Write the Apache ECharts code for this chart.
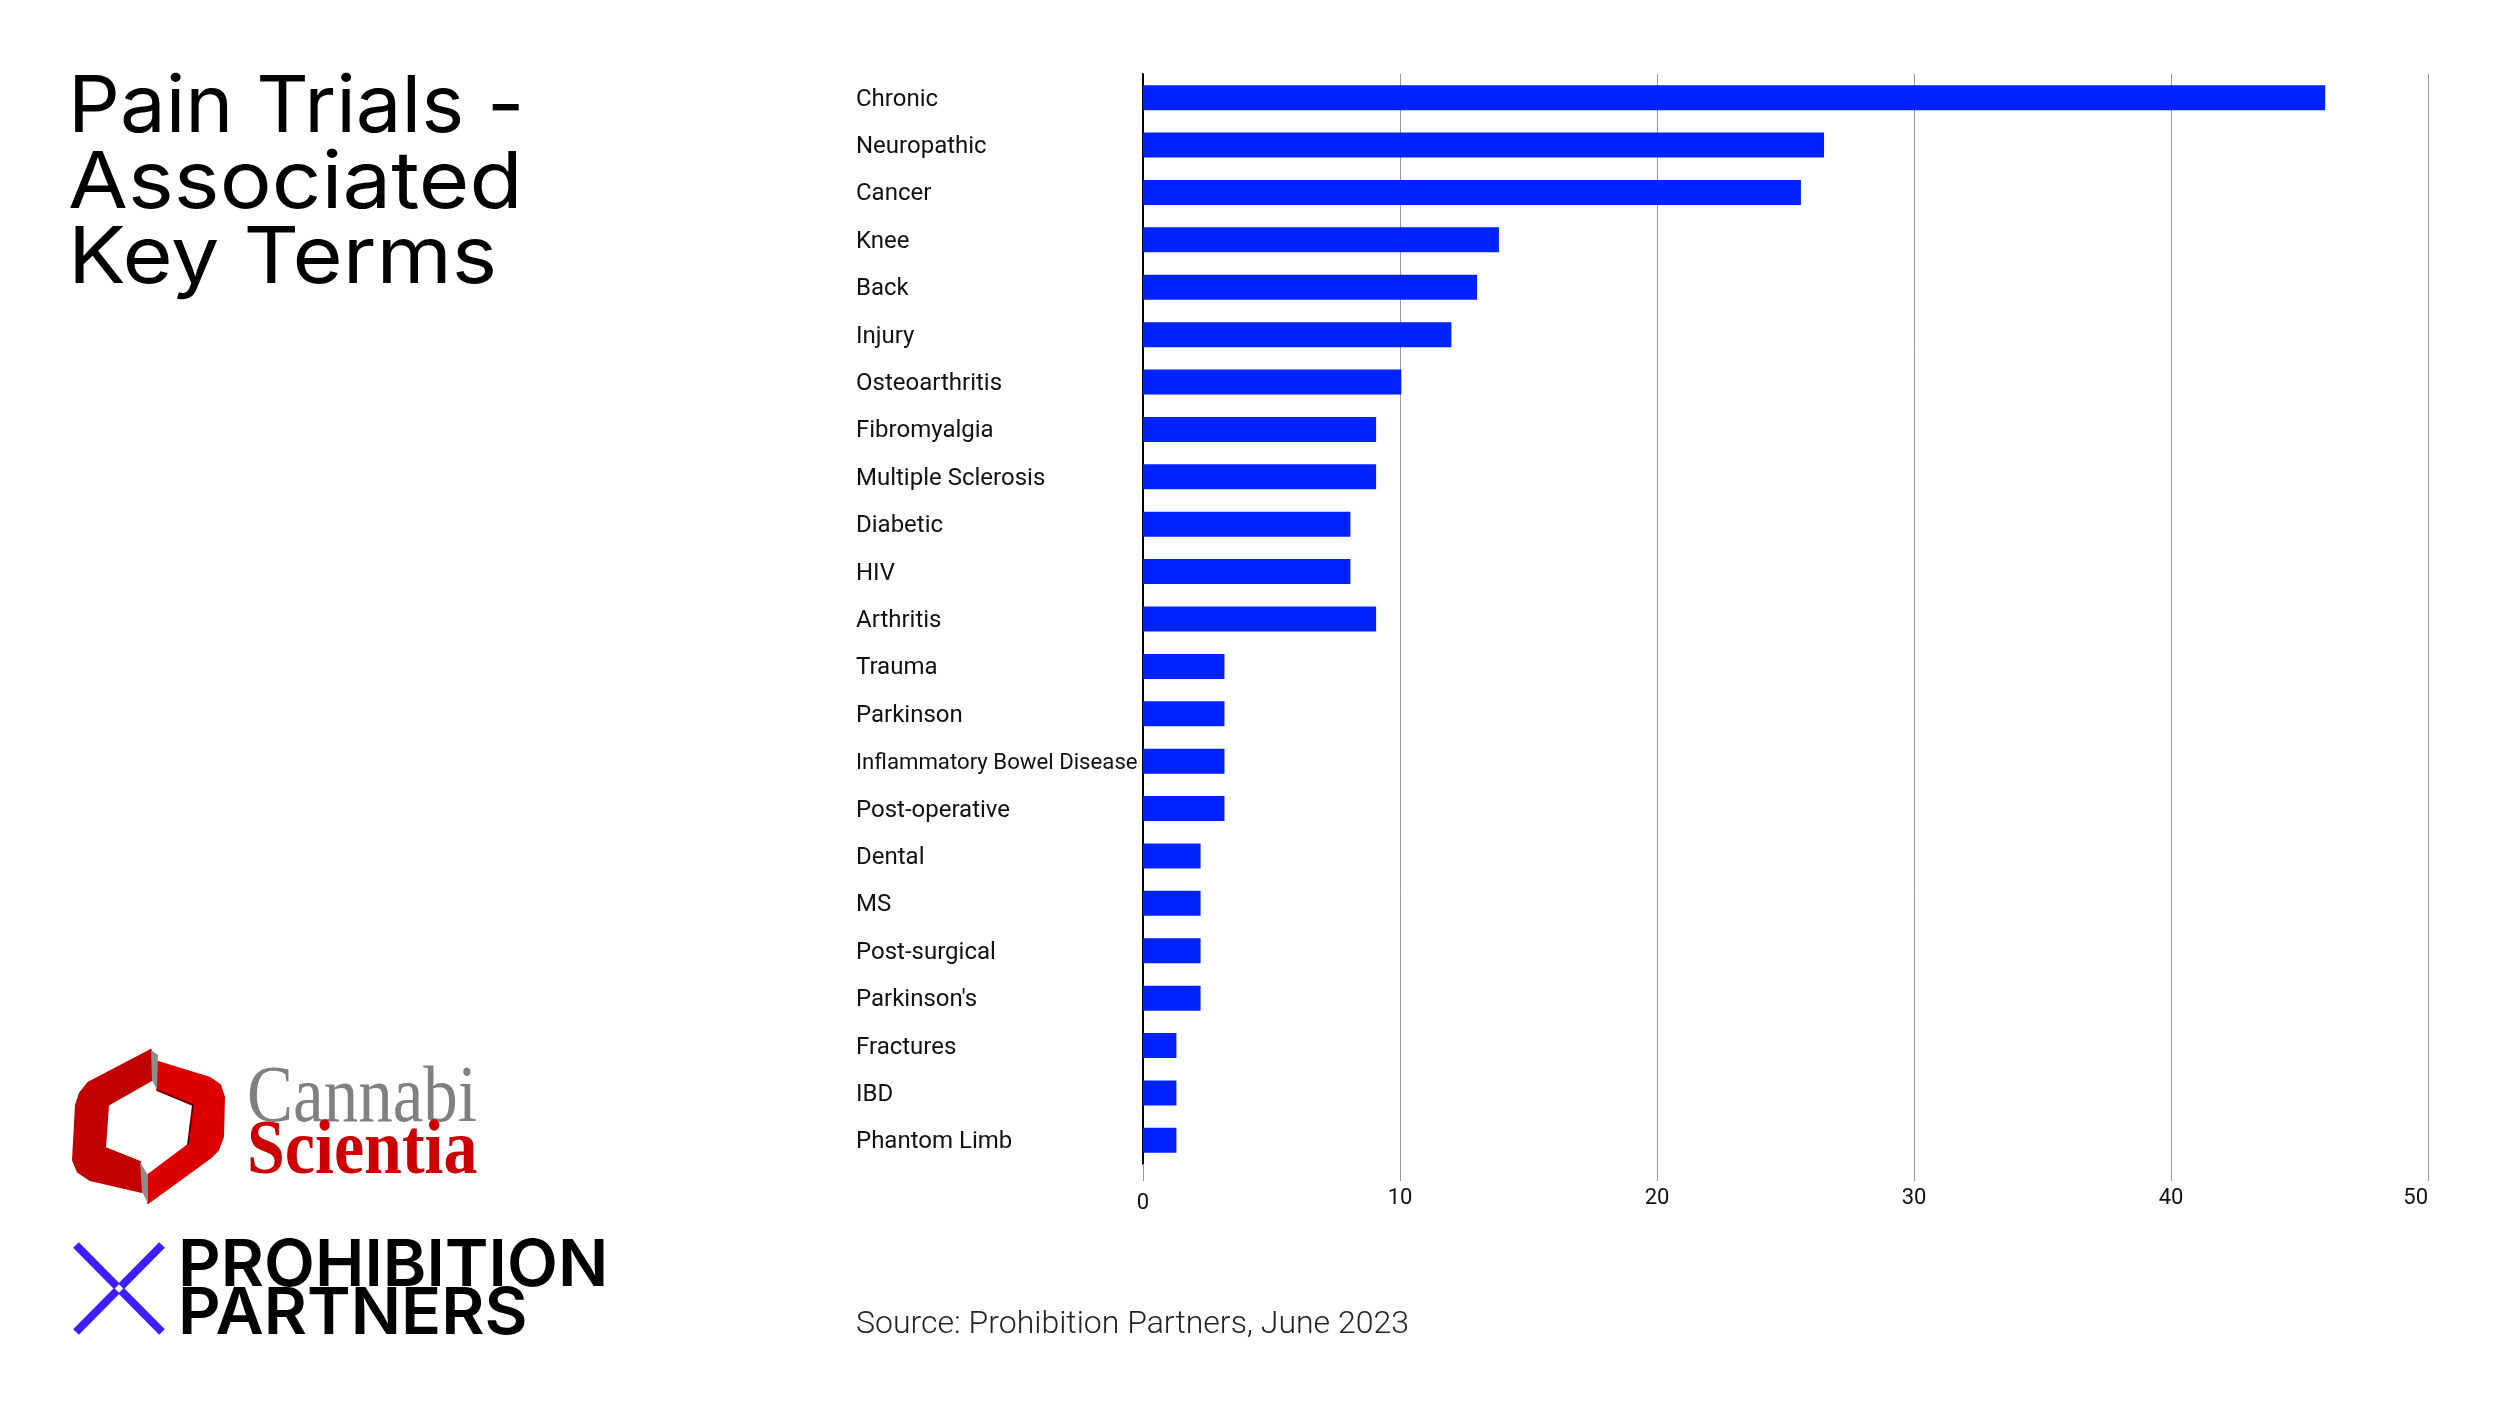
<!DOCTYPE html>
<html>
<head>
<meta charset="utf-8">
<script src="https://cdn.jsdelivr.net/npm/echarts@6/dist/echarts.min.js"></script>
<style>
html,body{margin:0;padding:0;background:#fff;}
#chart{width:2500px;height:1406px;}
</style>
</head>
<body>
<div id="chart"></div>
<script>
// ---- data ----
const categories = [
  'Chronic','Neuropathic','Cancer','Knee','Back','Injury','Osteoarthritis',
  'Fibromyalgia','Multiple Sclerosis','Diabetic','HIV','Arthritis','Trauma',
  'Parkinson','Inflammatory Bowel Disease','Post-operative','Dental','MS',
  'Post-surgical',"Parkinson's",'Fractures','IBD','Phantom Limb'
];
const values = [
  46, 26.5, 25.6, 13.85, 13, 12, 10.05,
  9.07, 9.07, 8.07, 8.07, 9.07, 3.17,
  3.17, 3.17, 3.17, 2.24, 2.24,
  2.24, 2.24, 1.3, 1.3, 1.3
];
const xMin = 0, xMax = 50, xStep = 10;
const titleLines = ['Pain Trials -', 'Associated', 'Key Terms'];
const sourceText = 'Source: Prohibition Partners, June 2023';

const chart = echarts.init(document.getElementById('chart'), null, {renderer: 'canvas'});

const graphics = [];
// title
const titleY = [108, 184, 259];
const titleScale = [1.03, 1.1, 1.09];
titleLines.forEach((t, i) => {
  graphics.push({
    type: 'text', x: 68, y: titleY[i], scaleX: titleScale[i],
    style: {text: t, x: 0, y: 0, fill: '#000', font: '400 79px Inter', textVerticalAlign: 'middle'}
  });
});
// source
graphics.push({
  type: 'text', x: 856, y: 1325,
  style: {text: sourceText, x: 0, y: 0, fill: '#222', font: '300 32px Roboto', textVerticalAlign: 'middle'}
});
// Cannabi Scientia logo
graphics.push({
  type: 'polygon',
  shape: {points: [[151,1050],[88,1083],[80,1093],[76,1105],[73,1160],[78,1172],[90,1180],[142,1192],[140,1162],[105,1148],[108,1105],[152,1080]]},
  style: {fill: '#c20000', stroke: '#c20000', lineWidth: 2, lineJoin: 'round'}
});
graphics.push({
  type: 'polygon',
  shape: {points: [[158,1062],[210,1078],[220,1085],[224,1097],[223,1137],[218,1150],[210,1158],[148,1203],[148,1175],[188,1145],[193,1105],[157,1090]]},
  style: {fill: '#dc0000', stroke: '#dc0000', lineWidth: 2, lineJoin: 'round'}
});
graphics.push({
  type: 'polyline',
  shape: {points: [[157,1090],[193,1105],[188,1145]]},
  style: {stroke: '#300', lineWidth: 1.2, fill: null}
});
graphics.push({
  type: 'polygon',
  shape: {points: [[151,1050],[158,1055],[157,1090],[152,1080]]},
  style: {fill: '#8c8c8c'}
});
graphics.push({
  type: 'polygon',
  shape: {points: [[140,1162],[148,1175],[148,1203],[142,1192]]},
  style: {fill: '#8c8c8c'}
});
graphics.push({
  type: 'text', x: 247, y: 1100, scaleY: 1.15,
  style: {text: 'Cannabi', x: 0, y: 0, fill: '#808080', font: '400 69px "Liberation Serif"', textVerticalAlign: 'middle'}
});
graphics.push({
  type: 'text', x: 247, y: 1153, scaleY: 1.15,
  style: {text: 'Scientia', x: 0, y: 0, fill: '#cc0000', font: '700 68px "Liberation Serif"', textVerticalAlign: 'middle'}
});
// Prohibition Partners logo
graphics.push({
  type: 'line', shape: {x1: 76, y1: 1245, x2: 162, y2: 1332},
  style: {stroke: '#3c1eff', lineWidth: 8}
});
graphics.push({
  type: 'line', shape: {x1: 162, y1: 1245, x2: 76, y2: 1332},
  style: {stroke: '#3c1eff', lineWidth: 8}
});
graphics.push({
  type: 'rect', x: 119, y: 1288.5, rotation: Math.PI / 4,
  shape: {x: -3, y: -3, width: 6, height: 6},
  style: {fill: '#fff'}
});
graphics.push({
  type: 'text', x: 178, y: 1266, scaleX: 1.02,
  style: {text: 'PROHIBITION', x: 0, y: 0, fill: '#000', font: '600 65px Inter', textVerticalAlign: 'middle'}
});
graphics.push({
  type: 'text', x: 178, y: 1314, scaleX: 1.02,
  style: {text: 'PARTNERS', x: 0, y: 0, fill: '#000', font: '600 65px Inter', textVerticalAlign: 'middle'}
});

const option = {
  animation: false,
  backgroundColor: '#fff',
  grid: {left: 1143, right: 72, top: 74, height: 1090, containLabel: false},
  xAxis: {
    type: 'value', min: xMin, max: xMax, interval: xStep,
    axisLine: {show: false},
    axisTick: {show: true, length: 17, lineStyle: {color: '#9a9a9a', width: 1}},
    splitLine: {show: true, lineStyle: {color: '#9a9a9a', width: 1}},
    axisLabel: {
      margin: 23, fontFamily: 'Roboto', fontSize: 22, color: '#111', alignMaxLabel: 'right',
      formatter: v => v === 0 ? '{z|0}' : String(v),
      rich: {z: {padding: [5, 0, 0, 0], fontFamily: 'Roboto', fontSize: 22, color: '#111'}}
    }
  },
  yAxis: {
    type: 'category', inverse: true, data: categories,
    axisLine: {show: true, lineStyle: {color: '#000', width: 2}},
    axisTick: {show: false},
    axisLabel: {
      align: 'left', margin: 287, fontFamily: 'Roboto', fontSize: 24, color: '#111',
      padding: [4, 0, 0, 0],
      formatter: v => v.length > 20 ? '{n|' + v + '}' : v,
      rich: {n: {fontFamily: 'Roboto', fontSize: 22.2, color: '#111'}}
    }
  },
  series: [{
    type: 'bar', data: values, barWidth: 25, silent: true,
    itemStyle: {color: '#0022ff'}
  }],
  graphic: graphics
};
chart.setOption(option);
</script>
</body>
</html>
